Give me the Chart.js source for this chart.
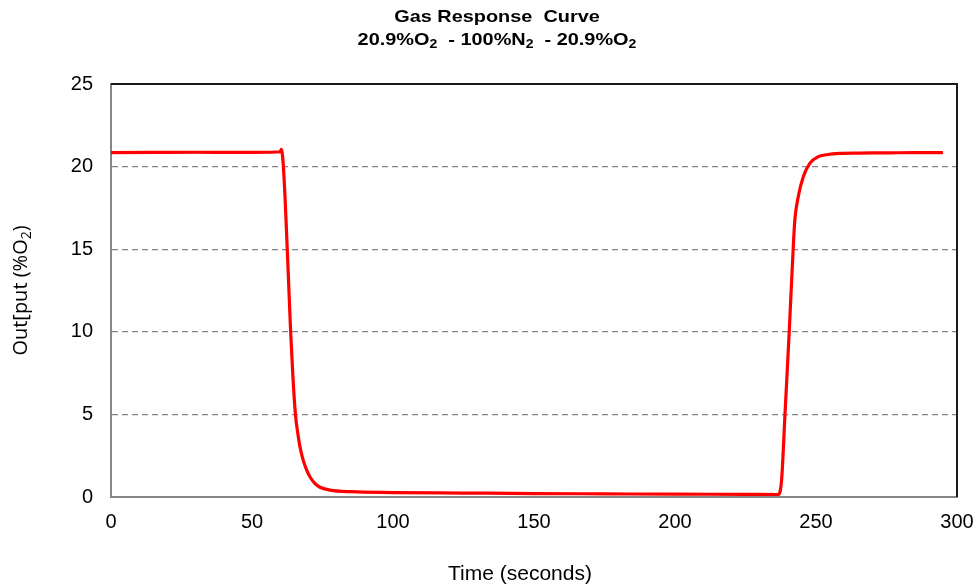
<!DOCTYPE html>
<html>
<head>
<meta charset="utf-8">
<title>Gas Response Curve</title>
<script src="https://cdn.jsdelivr.net/npm/chart.js@4.4.1/dist/chart.umd.min.js"></script>
<style>
  html, body { margin: 0; padding: 0; background: #fff; }
  #wrap { width: 974px; height: 587px; position: relative; }
</style>
</head>
<body>
<div id="wrap"><canvas id="gasChart" width="974" height="587"></canvas></div>
<script>
// sensor reading, time in seconds vs output in %O2
const timeSec = [
    0, 15, 30, 45, 55, 60, 60.4, 61, 61.7, 62.5, 63.1, 63.7, 64.5, 65.4, 66.2,
    67, 68.2, 69.4, 70.8, 72.3, 74.1, 77.7, 85, 100, 125, 150, 175, 200, 225,
    236.6, 237.8, 239, 240.5, 241.9, 242.5, 243.7, 245.5, 247.8, 250.8, 253.7,
    258.5, 265, 275, 285, 295
];
const outputO2 = [
    20.85, 20.86, 20.87, 20.86, 20.87, 20.9, 21.05, 20.3, 18.2, 15.0, 12.5, 10.0, 7.3, 5.0, 3.9,
    3.05, 2.2, 1.63, 1.15, 0.83, 0.59, 0.42, 0.32, 0.27, 0.24, 0.21, 0.19, 0.17, 0.16,
    0.15, 1.03, 5.0, 10.0, 15.0, 16.77, 18.18, 19.39, 20.2, 20.6, 20.72,
    20.8, 20.82, 20.83, 20.85, 20.85
];
const xTicks = [0, 50, 100, 150, 200, 250, 300];
const yTicks = [0, 5, 10, 15, 20, 25];

const titleLines = [
    [{ t: 'Gas Response  Curve' }],
    [{ t: '20.9%O' }, { t: '2', sub: true }, { t: '  - 100%N' }, { t: '2', sub: true },
     { t: '  - 20.9%O' }, { t: '2', sub: true }]
];
const yTitle = [{ t: 'Out[put (%O' }, { t: '2', sub: true }, { t: ')' }];
const xTitle = 'Time (seconds)';

const points = timeSec.map((t, i) => ({ x: t, y: outputO2[i] }));

const ARIAL = '"Liberation Sans", Arial, sans-serif';

// draws a line of text where some pieces are subscripts, centred on (0,0)
function drawRich(ctx, parts, size, family, weight) {
    const subSize = Math.round(size * 0.68);
    const fontFor = p => weight + ' ' + (p.sub ? subSize : size) + 'px ' + family;
    let total = 0;
    parts.forEach(p => {
        ctx.font = fontFor(p);
        total += ctx.measureText(p.t).width;
    });
    let x = -total / 2;
    ctx.textBaseline = 'middle';
    ctx.textAlign = 'left';
    parts.forEach(p => {
        ctx.font = fontFor(p);
        ctx.fillText(p.t, x, p.sub ? size * 0.3 : 0);
        x += ctx.measureText(p.t).width;
    });
}

const labelsPlugin = {
    id: 'labels',
    afterDraw(chart) {
        const ctx = chart.ctx;
        const area = chart.chartArea;

        // black frame on the top and right edges
        ctx.save();
        ctx.strokeStyle = '#1a1a1a';
        ctx.lineWidth = 2;
        ctx.beginPath();
        ctx.moveTo(area.left, area.top);
        ctx.lineTo(area.right, area.top);
        ctx.lineTo(area.right, area.bottom);
        ctx.stroke();
        ctx.restore();

        // two line heading, slightly widened
        ctx.save();
        ctx.fillStyle = '#000';
        ctx.translate(497, 17);
        ctx.scale(1.17, 1);
        drawRich(ctx, titleLines[0], 17, ARIAL, 'bold');
        ctx.translate(0, 23);
        drawRich(ctx, titleLines[1], 17, ARIAL, 'bold');
        ctx.restore();

        ctx.save();
        ctx.fillStyle = '#000';
        ctx.translate(21, (area.top + area.bottom) / 2);
        ctx.rotate(-Math.PI / 2);
        drawRich(ctx, yTitle, 20, '"Open Sans", sans-serif', 'normal');
        ctx.restore();

        ctx.save();
        ctx.fillStyle = '#000';
        ctx.font = '21px ' + ARIAL;
        ctx.textAlign = 'center';
        ctx.textBaseline = 'middle';
        ctx.fillText(xTitle, 520, 574);
        ctx.restore();
    }
};

const ctx = document.getElementById('gasChart').getContext('2d');

new Chart(ctx, {
    type: 'line',
    data: {
        datasets: [{
            data: points,
            borderColor: '#ff0000',
            borderWidth: 3.2,
            pointRadius: 0,
            fill: false,
            cubicInterpolationMode: 'monotone'
        }]
    },
    options: {
        responsive: false,
        devicePixelRatio: 1,
        animation: false,
        layout: { padding: { top: 84, right: 0, left: 0, bottom: 0 } },
        plugins: {
            legend: { display: false },
            tooltip: { enabled: false },
            title: { display: false }
        },
        scales: {
            x: {
                type: 'linear',
                min: 0,
                max: 300,
                afterFit: s => { s.height = 90; s.paddingRight = 17; },
                afterBuildTicks: s => { s.ticks = xTicks.map(v => ({ value: v })); },
                ticks: {
                    color: '#000',
                    padding: 13,
                    maxRotation: 0,
                    font: { family: ARIAL, size: 20 }
                },
                grid: { drawOnChartArea: false, drawTicks: false },
                border: { color: '#868686', width: 2 }
            },
            y: {
                min: 0,
                max: 25,
                afterFit: s => { s.width = 111; },
                afterBuildTicks: s => { s.ticks = yTicks.map(v => ({ value: v })); },
                ticks: {
                    color: '#000',
                    padding: 18,
                    font: { family: ARIAL, size: 20 }
                },
                grid: { color: '#858585', lineWidth: 1.3, drawTicks: false },
                border: { color: '#868686', width: 2, dash: [6, 4] }
            }
        }
    },
    plugins: [labelsPlugin]
});
</script>
</body>
</html>
